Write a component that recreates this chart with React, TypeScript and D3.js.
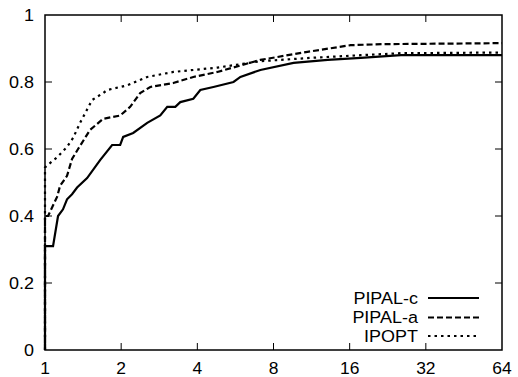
import React from "react";
import * as d3 from "d3";

// performance ratio (t) and fraction of problems (v)
const pipalC_t = [1, 1, 1.076, 1.126, 1.178, 1.222, 1.279, 1.339, 1.467, 1.651, 1.842, 1.982, 2.037, 2.231, 2.535, 2.855, 3.042, 3.273, 3.426, 3.856, 4.11, 4.63, 5.56, 5.92, 7.1, 9.6, 13.1, 17.7, 25.5, 64];
const pipalC_v = [0, 0.31, 0.31, 0.40, 0.42, 0.45, 0.465, 0.485, 0.513, 0.567, 0.612, 0.612, 0.636, 0.648, 0.678, 0.70, 0.726, 0.726, 0.74, 0.75, 0.776, 0.785, 0.80, 0.815, 0.836, 0.857, 0.866, 0.872, 0.88, 0.88];

const pipalA_t = [1, 1, 1.028, 1.116, 1.147, 1.222, 1.279, 1.351, 1.507, 1.697, 1.982, 2.171, 2.378, 2.606, 3.214, 3.856, 4.8, 7.1, 10.9, 16.15, 21.8, 64];
const pipalA_v = [0, 0.40, 0.40, 0.457, 0.49, 0.52, 0.57, 0.60, 0.657, 0.69, 0.70, 0.726, 0.767, 0.785, 0.797, 0.815, 0.83, 0.866, 0.89, 0.91, 0.913, 0.916];

const ipopt_t = [1, 1, 1.047, 1.116, 1.222, 1.291, 1.376, 1.535, 1.697, 1.76, 2.113, 2.535, 3.214, 4.8, 7.1, 11.2, 17.7, 25.5, 64];
const ipopt_v = [0, 0.545, 0.558, 0.575, 0.606, 0.633, 0.678, 0.746, 0.767, 0.776, 0.79, 0.815, 0.83, 0.843, 0.862, 0.872, 0.88, 0.886, 0.888];

const xTicks = [1, 2, 4, 8, 16, 32, 64];
const yTicks = [0, 0.2, 0.4, 0.6, 0.8, 1];
const yTickLabels = ["0", "0.2", "0.4", "0.6", "0.8", "1"];

const seriesNames = ["PIPAL-c", "PIPAL-a", "IPOPT"];
const seriesT = [pipalC_t, pipalA_t, ipopt_t];
const seriesV = [pipalC_v, pipalA_v, ipopt_v];
const dashes = ["none", "6,3", "2.5,4"];

const font = "'Liberation Sans', Arial, sans-serif";

function Label({ x, y, anchor, size = 16.5, children }: { x: number; y: number; anchor: string; size?: number; children: React.ReactNode }) {
  return (
    <g transform={`translate(${x},${y}) scale(1.09,1)`}>
      <text x={0} y={0} textAnchor={anchor} fontFamily={font} fontSize={size}>{children}</text>
    </g>
  );
}

export default function App() {
  const W = 518, H = 377;
  const left = 45, right = 502, top = 15, bottom = 350;
  const x = d3.scaleLog().base(2).domain([1, 64]).range([left, right]);
  const y = d3.scaleLinear().domain([0, 1]).range([bottom, top]);
  const line = d3.line<[number, number]>().x(d => x(d[0])).y(d => y(d[1]));
  const tl = 7;
  const legendY = [298, 317.5, 336];

  return (
    <svg width={W} height={H} style={{ position: "absolute", left: 0, top: 0, background: "#fff" }}>
      <rect x={0} y={0} width={W} height={H} fill="#fff" />
      {seriesNames.map((n, i) => (
        <path key={n} d={line(seriesT[i].map((t, j) => [t, seriesV[i][j]] as [number, number])) || ""}
          fill="none" stroke="#000" strokeWidth={2.2} strokeDasharray={dashes[i]} strokeLinejoin="miter" />
      ))}
      {xTicks.slice(1, -1).map(t => (
        <g key={"xt" + t}>
          <line x1={x(t)} x2={x(t)} y1={bottom} y2={bottom - tl} stroke="#000" strokeWidth={1} />
          <line x1={x(t)} x2={x(t)} y1={top} y2={top + tl} stroke="#000" strokeWidth={1} />
        </g>
      ))}
      {yTicks.slice(1, -1).map(t => (
        <g key={"yt" + t}>
          <line x1={left} x2={left + tl} y1={y(t)} y2={y(t)} stroke="#000" strokeWidth={1} />
          <line x1={right} x2={right - tl} y1={y(t)} y2={y(t)} stroke="#000" strokeWidth={1} />
        </g>
      ))}
      <rect x={left} y={top} width={right - left} height={bottom - top} fill="none" stroke="#000" strokeWidth={1.5} />
      {xTicks.map(t => (
        <Label key={"xl" + t} x={x(t)} y={373.5} anchor="middle" size={16}>{t}</Label>
      ))}
      {yTicks.map((t, i) => (
        <Label key={"yl" + t} x={34} y={y(t) + 6} anchor="end">{yTickLabels[i]}</Label>
      ))}
      {seriesNames.map((n, i) => (
        <g key={"lg" + n}>
          <Label x={418} y={legendY[i] + 5.5} anchor="end">{n}</Label>
          <line x1={428} x2={479} y1={legendY[i]} y2={legendY[i]} stroke="#000" strokeWidth={2.2} strokeDasharray={dashes[i]} />
        </g>
      ))}
    </svg>
  );
}
